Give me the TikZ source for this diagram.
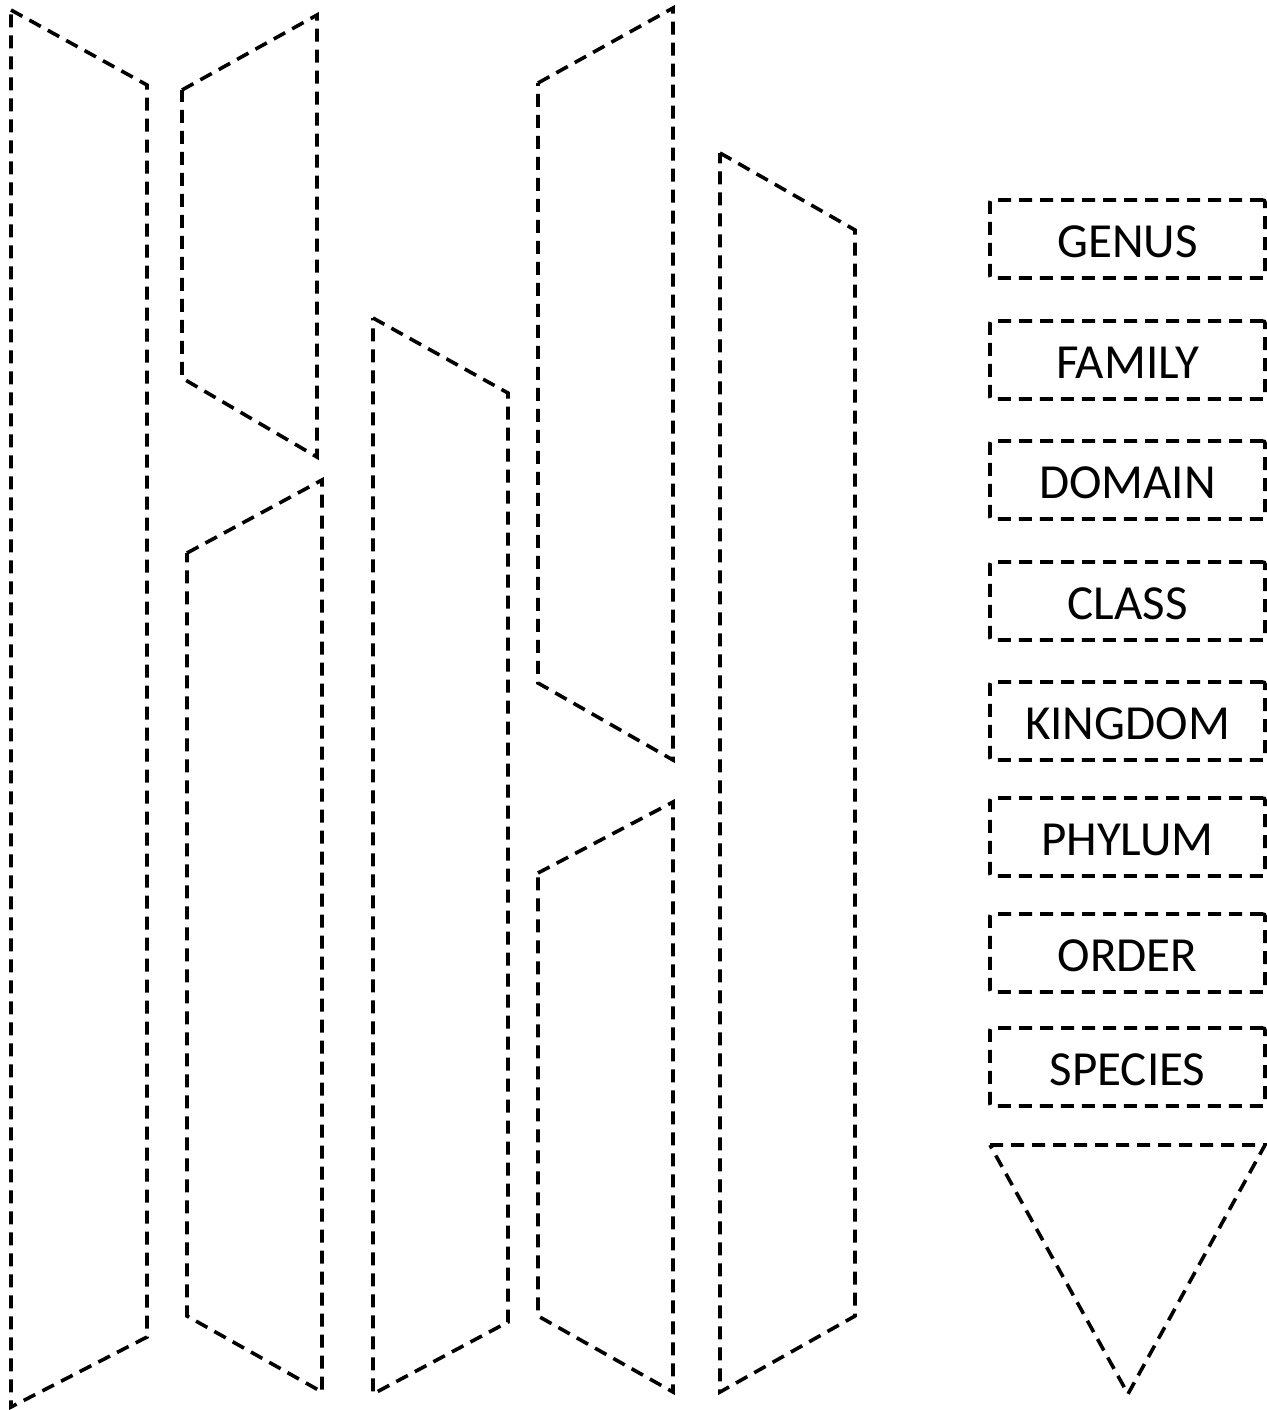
\documentclass[tikz,border=0pt]{standalone}
\usepackage{fontspec}
\setmainfont{Carlito}
\usepackage{tikz}
\usetikzlibrary{positioning}
\tikzset{
  dashline/.style={draw=black, line width=1.8pt, dash pattern=on 6.5pt off 4pt},
  strip/.style={dashline},
  rankbox/.style={dashline, rounded corners=1pt, minimum width=137.5pt, minimum height=39pt,
    inner sep=0pt, text height=18.6pt, text depth=0pt, font=\fontsize{24.5}{27}\selectfont},
}

\begin{document}
\begin{tikzpicture}[x=0.5pt, y=-0.5pt]
  \useasboundingbox (0,0) rectangle (1267,1410);
  % slanted strips: left x / right x / top-left y / top-right y / bottom-right y / bottom-left y
  \foreach \xl/\xr/\tl/\tr/\br/\bl in {11/147/10/85/1337/1407,
      182/317/90/15/457/378, 187/322/553/480/1392/1316,
      373/508/318/393/1322/1394, 538/673/83/8/760/683,
      538/673/873/802/1392/1316, 720/855/153/230/1316/1392} {
    \draw[strip] (\xl,\tl) -- (\xr,\tr) -- (\xr,\br) -- (\xl,\bl) -- cycle;
  }
  % ranks
  \node[rankbox] (genus) at (1127.5,239) {GENUS};
  \node[rankbox] (family) at (1127.5,360) {FAMILY};
  \node[rankbox] (domain) at (1127.5,480) {DOMAIN};
  \node[rankbox] (class) at (1127.5,601) {CLASS};
  \node[rankbox] (kingdom) at (1127.5,721) {KINGDOM};
  \node[rankbox] (phylum) at (1127.5,837) {PHYLUM};
  \node[rankbox] (order) at (1127.5,953) {ORDER};
  \node[rankbox] (species) at (1127.5,1067) {SPECIES};
  % pointer below the list
  \draw[dashline] (990,1145) -- (1265,1145) -- (1128,1394) -- cycle;
\end{tikzpicture}
\end{document}
